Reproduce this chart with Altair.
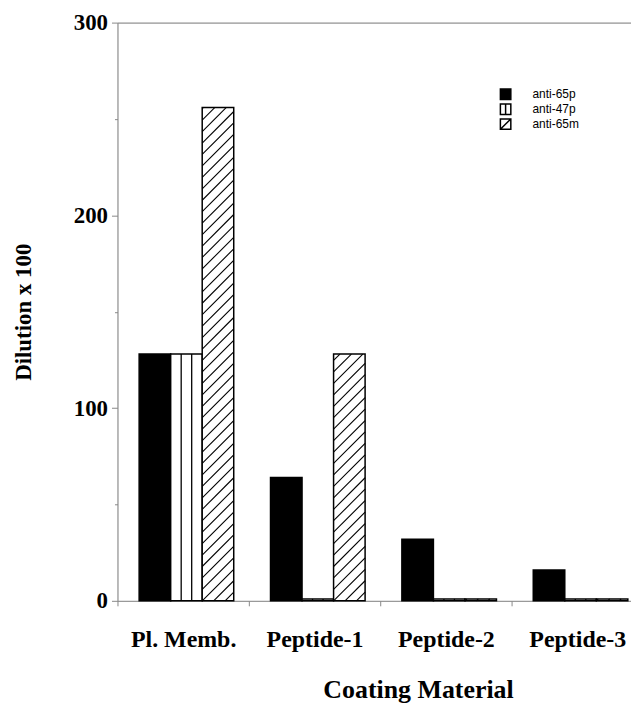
import json
import math
import altair as alt
import pandas as pd

# ---- data ----
categories = ["Pl. Memb.", "Peptide-1", "Peptide-2", "Peptide-3"]
series = ["anti-65p", "anti-47p", "anti-65m"]
anti_65p = [128, 64, 32, 16]
anti_47p = [128, 1, 1, 1]
anti_65m = [256, 128, 1, 1]
y_ticks = [0, 50, 100, 150, 200, 250, 300]

# ---- layout constants (styling, not data) ----
W, H = 516, 581
CAT_PX = 132.0
X_MAX = W / CAT_PX
BAR_LEFT = 0.165
BAR_W = 0.24
Y_MAX = 300
PX_PER_Y = H / Y_MAX
HATCH_SPACING_PX = 11.5

values_by_series = {"anti-65p": anti_65p, "anti-47p": anti_47p, "anti-65m": anti_65m}

rows = []
for ci, cat in enumerate(categories):
    for si, s in enumerate(series):
        x0 = ci + BAR_LEFT + si * BAR_W
        v = values_by_series[s][ci]
        rows.append({"category": cat, "series": s, "value": v, "base": 0,
                     "x0": x0, "x1": x0 + BAR_W, "xc": x0 + BAR_W / 2, "mid": v / 2})
bars = pd.DataFrame(rows)

# vertical stripes inside anti-47p bars
stripe_rows = []
for r in rows:
    if r["series"] == "anti-47p":
        for k in (1, 2):
            stripe_rows.append({"xs": r["x0"] + k * BAR_W / 3, "value": r["value"], "base": 0})
stripes = pd.DataFrame(stripe_rows)

# diagonal hatching inside anti-65m bars (clipped to each bar)
hatch_rows = []
rise = BAR_W * CAT_PX / PX_PER_Y  # 45 degree lines, in y units
spacing = HATCH_SPACING_PX / PX_PER_Y
for r in rows:
    if r["series"] != "anti-65m":
        continue
    v = r["value"]
    k0 = -int(math.ceil(rise / spacing)) - 1
    k1 = int(math.ceil(v / spacing)) + 1
    for k in range(k0, k1):
        yk = k * spacing
        tmin = max(0.0, (0 - yk) / rise)
        tmax = min(1.0, (v - yk) / rise)
        if tmax - tmin > 1e-6:
            hatch_rows.append({
                "hx0": r["x0"] + tmin * BAR_W, "hx1": r["x0"] + tmax * BAR_W,
                "hy0": yk + tmin * rise, "hy1": yk + tmax * rise,
            })
hatch = pd.DataFrame(hatch_rows)

legend_rows = bars[bars["category"] == categories[0]]

# ---- scales & axes ----
xscale = alt.Scale(domain=[0, X_MAX], nice=False, zero=False)
yscale = alt.Scale(domain=[0, Y_MAX], nice=False)

SERIF = "Liberation Serif"
yaxis = alt.Axis(
    values=y_ticks,
    labelExpr="datum.value % 100 === 0 ? datum.label : ''",
    tickSize={"condition": {"test": "datum.value % 100 === 0", "value": 6}, "value": 3},
    labelPadding=4,
    labelFont=SERIF, labelFontSize=23, labelFontWeight="bold",
    titleFont=SERIF, titleFontSize=23, titleFontWeight="bold",
    titlePadding=38,
    grid=False,
)
half_vals = [i * 0.5 for i in range(len(categories) * 2)]
xaxis_bottom = alt.Axis(
    values=half_vals,
    labelExpr=f"datum.value % 1 === 0 ? '' : {json.dumps(categories)}[floor(datum.value)]",
    tickOpacity={"condition": {"test": "datum.value % 1 !== 0", "value": 0}, "value": 1},
    tickSize=5,
    labelPadding=22,
    labelFlush=False, labelOverlap=False, labelBound=False,
    labelFont=SERIF, labelFontSize=24, labelFontWeight="bold",
    titleFont=SERIF, titleFontSize=26, titleFontWeight="bold",
    titlePadding=25, titleX=302,
    grid=False,
)
xaxis_top = alt.Axis(orient="top", labels=False, ticks=False, title=None, grid=False, domain=True)

legend = alt.Legend(
    title=None, orient="none", legendX=384, legendY=66,
    symbolSize=110, symbolStrokeColor="black", symbolStrokeWidth=1.5,
    labelFont="Liberation Sans", labelFontSize=12, labelColor="black",
    labelOffset=21, rowPadding=-5,
)
fill_scale = alt.Scale(domain=series, range=["black", "white", "white"])
stroke_scale = alt.Scale(domain=series, range=["black", "black", "black"])
shape_scale = alt.Scale(
    domain=series,
    range=[
        "M-1,-1H1V1H-1Z",
        "M-1,-1H1V1H-1Z M0,-1V1",
        "M-1,-1H1V1H-1Z M-1,1L1,-1",
    ],
)

Y_TITLE = "Dilution x 100"

legend_layer = alt.Chart(legend_rows).mark_point(
    filled=True, size=110, strokeWidth=1.5, opacity=1
).encode(
    x=alt.X("xc:Q", scale=xscale, axis=None),
    y=alt.Y("mid:Q", scale=yscale, axis=yaxis, title=Y_TITLE),
    fill=alt.Fill("series:N", scale=fill_scale, legend=legend, sort=series),
    shape=alt.Shape("series:N", scale=shape_scale, legend=legend, sort=series),
    stroke=alt.Stroke("series:N", scale=stroke_scale, legend=legend, sort=series),
)

bar_layer = alt.Chart(bars).mark_rect(stroke="black", strokeWidth=1.5).encode(
    x=alt.X("x0:Q", scale=xscale, axis=xaxis_bottom, title="Coating Material"),
    x2="x1:Q",
    y=alt.Y("value:Q", scale=yscale, axis=yaxis, title=Y_TITLE),
    y2="base:Q",
    fill=alt.Fill("series:N", scale=fill_scale, legend=legend, sort=series),
)

stripe_layer = alt.Chart(stripes).mark_rule(color="black", strokeWidth=1.3).encode(
    x=alt.X("xs:Q", scale=xscale, axis=None),
    y=alt.Y("value:Q", scale=yscale, axis=yaxis, title=Y_TITLE),
    y2="base:Q",
)

hatch_layer = alt.Chart(hatch).mark_rule(color="black", strokeWidth=1.1).encode(
    x=alt.X("hx0:Q", scale=xscale, axis=xaxis_top),
    x2="hx1:Q",
    y=alt.Y("hy0:Q", scale=yscale, axis=yaxis, title=Y_TITLE),
    y2="hy1:Q",
)

chart = alt.layer(legend_layer, bar_layer, stripe_layer, hatch_layer).resolve_axis(
    x="independent"
).properties(
    width=W, height=H,
    autosize=alt.AutoSizeParams(type="none"),
    padding={"left": 110, "top": 13, "right": 0, "bottom": 104},
).configure_view(stroke=None).configure_axis(
    domainColor="black", domainWidth=2, tickColor="black", tickWidth=1.5,
    labelColor="black", titleColor="black",
).configure(background="white")

chart.save("out.html", embed_options={"renderer": "svg", "actions": False})
